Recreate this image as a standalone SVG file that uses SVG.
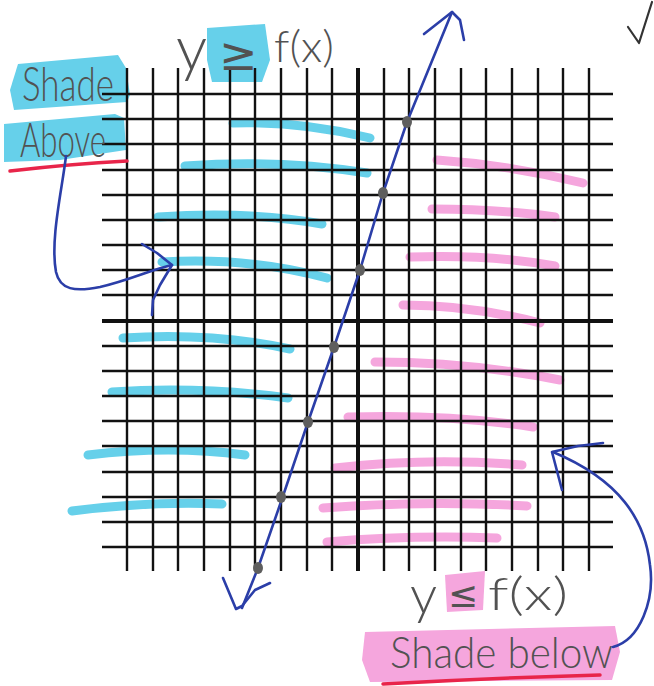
<svg xmlns="http://www.w3.org/2000/svg" width="654" height="686" viewBox="0 0 654 686">
<style>
.hl{fill:none;stroke-linecap:round;stroke-width:9}
.cy{stroke:#66d0ea}
.pk{stroke:#f5a6dd}
.grid{fill:none;stroke:#111;stroke-width:2.4}
.axis{fill:none;stroke:#111;stroke-width:4}
.ink{fill:none;stroke:#2b3ea8;stroke-width:2.6;stroke-linecap:round;stroke-linejoin:round}
.hand{font-family:Lato,"Open Sans","DejaVu Sans",sans-serif;font-weight:300;fill:#525252}
.sym{font-family:"DejaVu Sans",sans-serif;font-weight:normal}
.red{fill:none;stroke:#e8254a;stroke-width:3.5;stroke-linecap:round}
.dot{fill:#5e5e5e}
</style>
<rect width="654" height="686" fill="#fff"/>
<g id="shading">
<path class="hl cy" d="M233 123Q300 121 370 138"/>
<path class="hl cy" d="M185 166Q280 159 367 173"/>
<path class="hl cy" d="M158 217Q250 211 322 224"/>
<path class="hl cy" d="M162 262Q250 257 327 278"/>
<path class="hl cy" d="M123 338Q210 332 290 349"/>
<path class="hl cy" d="M112 392Q200 386 288 398"/>
<path class="hl cy" d="M88 455Q170 445 245 455"/>
<path class="hl cy" d="M72 511Q150 501 222 504"/>
<path class="hl pk" d="M437 160Q510 165 583 183"/>
<path class="hl pk" d="M432 209Q500 209 555 217"/>
<path class="hl pk" d="M410 257Q490 254 555 266"/>
<path class="hl pk" d="M403 305Q470 305 540 323"/>
<path class="hl pk" d="M375 362Q470 362 560 380"/>
<path class="hl pk" d="M348 417Q450 414 533 427"/>
<path class="hl pk" d="M335 468Q430 457 522 465"/>
<path class="hl pk" d="M323 508Q430 500 527 506"/>
<path class="hl pk" d="M327 542Q410 535 497 538"/>
</g>
<g id="label-highlights">
<path fill="#66d0ea" d="M18 64L118 55L126 68L130 95L127 102L14 110L10 90Z"/>
<path fill="#66d0ea" d="M4 124L115 114L124 118L126 150L60 160L4 162Z"/>
<path fill="#66d0ea" d="M207 28L265 24L270 60L262 82L212 82L207 60Z"/>
<path fill="#f5a6dd" d="M445 575L485 571L483 610L447 612Z"/>
<path fill="#f5a6dd" d="M365 632L615 626L620 652L612 680L370 682L362 660Z"/>
</g>
<g id="grid">
<path class="grid" d="M127 68V571M153 68V571M178 68V571M204 68V571M230 68V571M255 68V571M281 68V571M307 68V571M332 68V571M384 68V571M409 68V571M435 68V571M461 68V571M486 68V571M512 68V571M538 68V571M563 68V571M589 68V571"/>
<path class="grid" d="M102 94H613M102 119H613M102 144H613M102 170H613M102 195H613M102 220H613M102 245H613M102 270H613M102 295H613M102 346H613M102 371H613M102 396H613M102 421H613M102 446H613M102 472H613M102 497H613M102 522H613M102 547H613"/>
<path class="axis" d="M358 68V571M102 321H613"/>
</g>
<g id="line">
<path class="ink" d="M242 608L258 568L283 496L308 422L334 347L360 270L383 193L407 122L452 12"/>
<path class="ink" d="M424 34L452 12L460 20L464 40"/>
<path class="ink" d="M223 578L236 609L242 606L255 590L270 583"/>
<g class="dot">
<ellipse cx="407" cy="122" rx="5" ry="6"/>
<ellipse cx="383" cy="193" rx="5" ry="6"/>
<ellipse cx="360" cy="270" rx="5" ry="6"/>
<ellipse cx="334" cy="347" rx="5" ry="6"/>
<ellipse cx="308" cy="422" rx="5" ry="6"/>
<ellipse cx="281" cy="497" rx="5" ry="6"/>
<ellipse cx="258" cy="568" rx="5" ry="6"/>
</g>
</g>
<g id="label-above">
<text class="hand" x="22" y="101" font-size="48" textLength="92" lengthAdjust="spacingAndGlyphs">Shade</text>
<text class="hand" x="20" y="157" font-size="48" textLength="86" lengthAdjust="spacingAndGlyphs">Above</text>
<path class="red" d="M10 171Q70 164 127 161"/>
</g>
<g id="label-ge">
<text class="hand"><tspan x="176" y="70" font-size="62">y</tspan><tspan class="sym" x="219" y="70" font-size="46">≥</tspan><tspan x="274" y="62" font-size="44" textLength="60" lengthAdjust="spacingAndGlyphs">f(x)</tspan></text>
</g>
<g id="label-below">
<text class="hand"><tspan x="410" y="614" font-size="54">y</tspan><tspan class="sym" x="448" y="607" font-size="36">≤</tspan><tspan x="488" y="610" font-size="46" textLength="80" lengthAdjust="spacingAndGlyphs">f(x)</tspan></text>
<text class="hand" x="390" y="668" font-size="44" textLength="223" lengthAdjust="spacingAndGlyphs">Shade below</text>
<path class="red" d="M383 684Q490 678 600 675"/>
</g>
<g id="connectors">
<path class="ink" d="M66 156C62 190 50 240 56 272C60 290 75 292 100 287C130 280 150 270 172 265"/>
<path class="ink" d="M142 244L157 253L172 265L160 285L153 300L152 315"/>
<path class="ink" d="M613 647C640 640 655 600 650 565C645 520 620 480 553 452"/>
<path class="ink" d="M603 443L578 446L552 452L562 490"/>
<path fill="none" stroke="#333" stroke-width="2.2" stroke-linecap="round" stroke-linejoin="round" d="M628 27L639 43L652 2"/>
</g>
</svg>
